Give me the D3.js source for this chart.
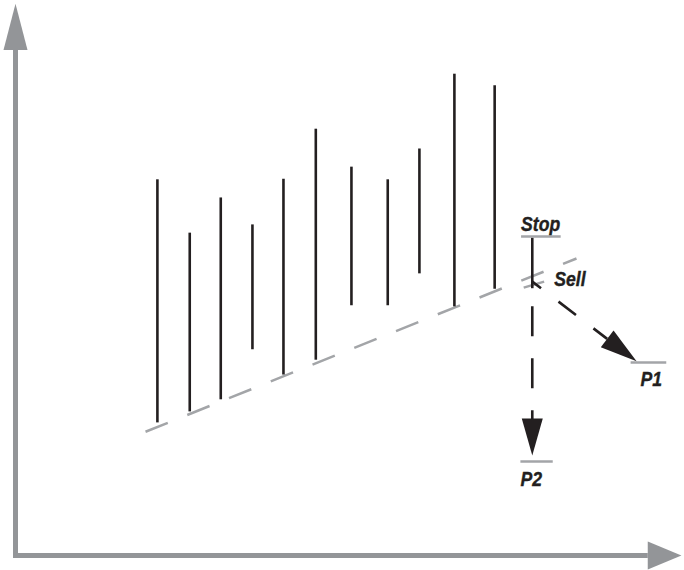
<!DOCTYPE html>
<html>
<head>
<meta charset="utf-8">
<script src="https://cdn.jsdelivr.net/npm/d3@7"></script>
<style>
  html, body { margin: 0; padding: 0; background: #fff; }
  svg { display: block; }
  .lbl { font-family: "Liberation Sans", Arial, sans-serif;
         font-weight: bold; font-style: italic; font-size: 21px; fill: #231f20;
         stroke: #231f20; stroke-width: 0.4px; }
</style>
</head>
<body>
<div id="chart"></div>
<script>
// price bars (x in time units, high / low in price units)
const barX    = [21.5, 26.4, 31.1, 35.9, 40.6, 45.5, 50.9, 56.4, 61.2, 66.5, 72.6];
const barHigh = [68.4, 58.7, 65.1, 60.2, 68.5, 77.6, 70.7, 68.4, 74.0, 87.6, 85.5];
const barLow  = [24.2, 26.2, 28.4, 37.5, 32.9, 35.6, 45.5, 45.5, 51.3, 45.3, 48.5];

// support line (dashed) and the short tick under the break
const trendX = [19.7, 85.0];
const trendY = [22.5, 54.0];
const breakTickX = [77.0, 80.1];
const breakTickY = [48.7, 49.8];

// breakout bar
const stopBarX = 78.3;
const stopBarHigh = 57.8;
const stopBarLow = 48.6;

// levels: name, x from, x to, price
const levelNames = ["Stop", "P1", "P2"];
const levelX0    = [76.6, 93.2, 76.5];
const levelX1    = [82.6, 98.6, 81.4];
const levelPrice = [58.0, 35.1, 17.1];

const sellX = 78.3, sellPrice = 49.8;
const p1TipX = 94.1, p1TipPrice = 35.3;
const p2TipPrice = 18.2;

const width = 684, height = 570;

const x = d3.scaleLinear().domain([0, 100]).range([15.5, 675.5]);
const y = d3.scaleLinear().domain([0, 100]).range([555.5, 5.5]);

const svg = d3.select("#chart").append("svg")
    .attr("width", width)
    .attr("height", height);

const axisGray = "#939598";
const lineGray = "#a3a5a8";
const ink = "#231f20";

// axes with arrow heads
svg.append("line")
    .attr("x1", x(0)).attr("x2", x(0))
    .attr("y1", y(0) + 2.5).attr("y2", y(91.9))
    .attr("stroke", axisGray).attr("stroke-width", 5);
svg.append("path")
    .attr("d", `M${x(0) - 12},${y(91.9)} L${x(0)},${y(100.3)} L${x(0) + 12},${y(91.9)} Z`)
    .attr("fill", axisGray);

svg.append("line")
    .attr("x1", x(0) - 2.5).attr("x2", x(95.8))
    .attr("y1", y(0)).attr("y2", y(0))
    .attr("stroke", axisGray).attr("stroke-width", 5);
svg.append("path")
    .attr("d", `M${x(95.8)},${y(0) - 14} L${x(100.9)},${y(0)} L${x(95.8)},${y(0) + 14} Z`)
    .attr("fill", axisGray);

// support line
svg.append("line")
    .attr("x1", x(trendX[0])).attr("y1", y(trendY[0]))
    .attr("x2", x(trendX[1])).attr("y2", y(trendY[1]))
    .attr("stroke", lineGray).attr("stroke-width", 2.5)
    .attr("stroke-dasharray", "24 21");

svg.append("line")
    .attr("x1", x(breakTickX[0])).attr("y1", y(breakTickY[0]))
    .attr("x2", x(breakTickX[1])).attr("y2", y(breakTickY[1]))
    .attr("stroke", lineGray).attr("stroke-width", 2.5);

// bars
svg.selectAll(".bar")
  .data(d3.range(barX.length))
  .enter().append("line")
    .attr("class", "bar")
    .attr("x1", i => x(barX[i])).attr("x2", i => x(barX[i]))
    .attr("y1", i => y(barHigh[i])).attr("y2", i => y(barLow[i]))
    .attr("stroke", ink).attr("stroke-width", 2.6);

svg.append("line")
    .attr("x1", x(stopBarX)).attr("x2", x(stopBarX))
    .attr("y1", y(stopBarHigh)).attr("y2", y(stopBarLow))
    .attr("stroke", ink).attr("stroke-width", 2.6);

// level lines + labels
svg.selectAll(".level")
  .data(d3.range(levelNames.length))
  .enter().append("line")
    .attr("class", "level")
    .attr("x1", i => x(levelX0[i])).attr("x2", i => x(levelX1[i]))
    .attr("y1", i => y(levelPrice[i])).attr("y2", i => y(levelPrice[i]))
    .attr("stroke", lineGray).attr("stroke-width", 2.5);

// condensed look: squeeze the bold italic face horizontally
function label(tx, ty, s) {
  svg.append("text")
      .attr("class", "lbl")
      .attr("transform", `translate(${tx},${ty}) scale(0.84,1)`)
      .text(s);
}

const labelPos = [
  { dx: 0, dy: -6 },    // Stop above its line
  { dx: 10, dy: 24 },   // P1 below
  { dx: 0, dy: 25 }     // P2 below
];
levelNames.forEach((s, i) =>
  label(x(levelX0[i]) + labelPos[i].dx, y(levelPrice[i]) + labelPos[i].dy, s));

label(x(sellX) + 22, y(sellPrice) + 4, "Sell");

// arrow to P1
function arrowHead(tipX, tipY, fromX, fromY, len, half) {
  const a = Math.atan2(tipY - fromY, tipX - fromX);
  const bx = tipX - len * Math.cos(a), by = tipY - len * Math.sin(a);
  const nx = -Math.sin(a) * half, ny = Math.cos(a) * half;
  return { base: [bx, by], d: `M${tipX},${tipY} L${bx + nx},${by + ny} L${bx - nx},${by - ny} Z` };
}

const h1 = arrowHead(x(p1TipX), y(p1TipPrice), x(sellX), y(sellPrice), 37, 10.5);
svg.append("line")
    .attr("x1", x(sellX)).attr("y1", y(sellPrice))
    .attr("x2", h1.base[0]).attr("y2", h1.base[1])
    .attr("stroke", ink).attr("stroke-width", 2.6)
    .attr("stroke-dasharray", "22 22").attr("stroke-dashoffset", 11);
svg.append("path").attr("d", h1.d).attr("fill", ink);

// arrow to P2
const h2 = arrowHead(x(sellX), y(p2TipPrice), x(sellX), y(sellPrice), 37, 10.5);
svg.append("line")
    .attr("x1", x(sellX)).attr("y1", y(stopBarLow) + 18)
    .attr("x2", h2.base[0]).attr("y2", h2.base[1] + 1)
    .attr("stroke", ink).attr("stroke-width", 2.6)
    .attr("stroke-dasharray", "30 22");
svg.append("path").attr("d", h2.d).attr("fill", ink);
</script>
</body>
</html>
